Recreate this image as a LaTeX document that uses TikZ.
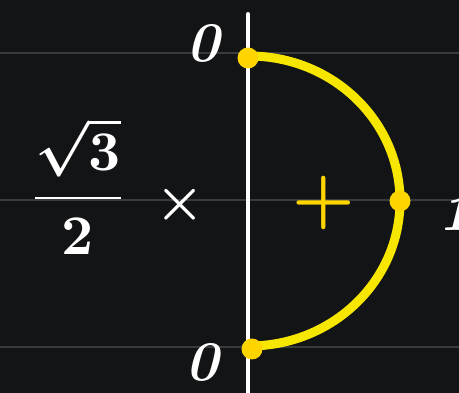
\documentclass[tikz,border=0pt]{standalone}
\usepackage{amsmath}
\definecolor{bgc}{HTML}{121416}
\definecolor{gridc}{HTML}{3A3B3D}
\definecolor{arcc}{HTML}{F7E600}
\definecolor{dotc}{HTML}{FFD500}
\begin{document}
\begin{tikzpicture}[x=1pt,y=-1pt,
  gridline/.style={draw=gridc,line width=2pt},
  axisline/.style={draw=white,line width=4pt,line cap=round},
  arcline/.style={draw=arcc,line width=9pt},
  dotpt/.style={circle,fill=dotc,inner sep=0pt,minimum size=21pt},
  wtext/.style={text=white,inner sep=0pt},
  ytext/.style={text=dotc,inner sep=0pt},
  digit/.style={wtext,font=\fontsize{56}{56}\selectfont\bfseries\itshape}]
\fill[bgc] (0,0) rectangle (459,393);
\useasboundingbox (0,0) rectangle (459,393);
\draw[gridline] (0,53) -- (459,53);
\draw[gridline] (0,200) -- (459,200);
\draw[gridline] (0,347) -- (459,347);
\coordinate (atop) at (248,14);
\coordinate (abot) at (248,393);
\draw[axisline] (atop) -- (abot);
\draw[arcline] (249,56) arc[start angle=-90,end angle=90,x radius=151,y radius=145];
\node[dotpt] (p0) at (248,58) {};
\node[dotpt] (p1) at (400,201) {};
\node[dotpt] (p2) at (252,349) {};
\node[digit] (z0) at (203,43) {0};
\node[digit] (z1) at (202,362) {0};
\node[digit,anchor=west] (one) at (438,212) {1};
\node[ytext,scale=7,font=\boldmath] (plus) at (324,203) {$+$};
\node[wtext,scale=5.5,font=\boldmath] (times) at (180,205) {$\times$};
\node[wtext,scale=5.6,font=\boldmath] (frac) at (78,186) {$\dfrac{\sqrt{3}}{2}$};
\end{tikzpicture}
\end{document}
